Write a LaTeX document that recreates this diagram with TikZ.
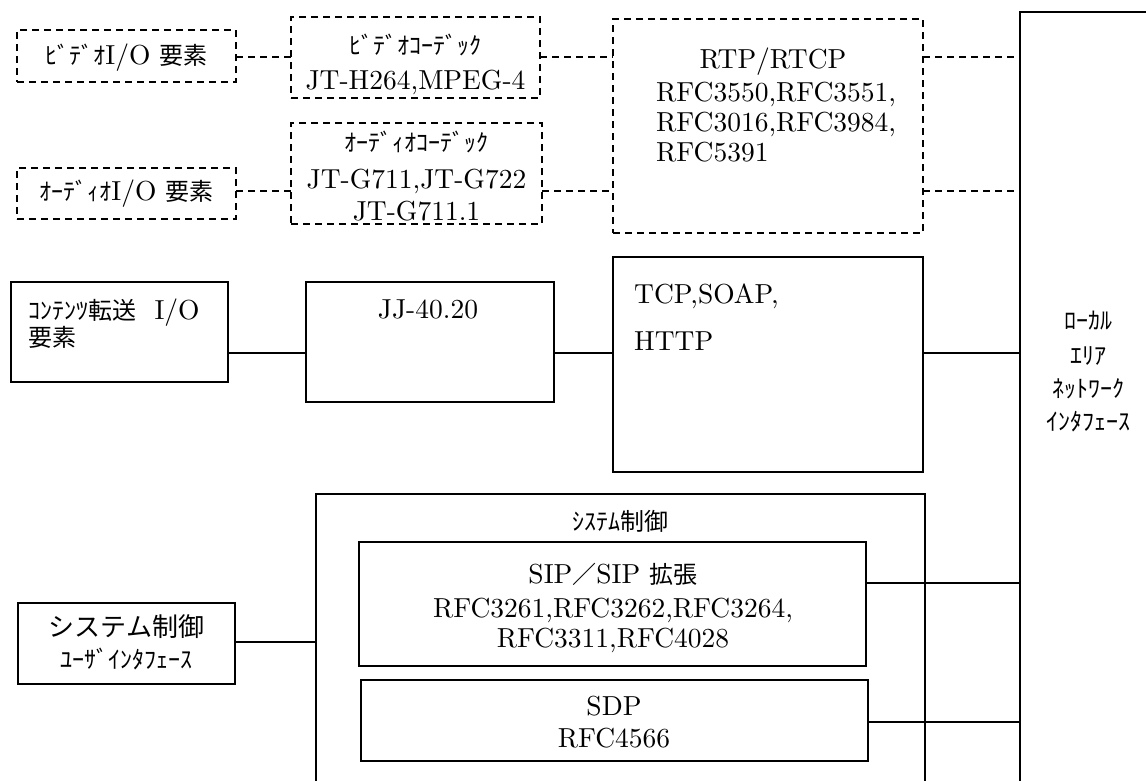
\documentclass[tikz,border=0pt]{standalone}
\usepackage{fontspec}
\setmainfont{lmroman10-regular.otf}
\newfontfamily\jpf{Noto Sans CJK JP}
\newcommand\jp[1]{{\jpf\fontsize{24}{28}\selectfont #1}}
\begin{document}
\begin{tikzpicture}[x=1pt,y=-1pt,
  sbox/.style={draw,line width=1.6pt,inner sep=0pt,outer sep=0pt},
  dbox/.style={sbox,dash pattern=on 7pt off 5pt},
  sl/.style={line width=1.6pt},
  dl/.style={line width=1.6pt,dash pattern=on 7pt off 5pt},
  txt/.style={inner sep=0pt,anchor=base,font=\fontsize{27.5}{30}\selectfont},
  ltxt/.style={txt,anchor=base west}]
\useasboundingbox (0,0) rectangle (1146,780);
\clip (0,0) rectangle (1146,780);
% boxes
\node[dbox,minimum width=219pt,minimum height=52pt] (vio) at (126.5,56) {};
\node[dbox,minimum width=249pt,minimum height=81pt] (vcod) at (415.5,57.5) {};
\node[dbox,minimum width=219pt,minimum height=51pt] (aio) at (126.5,193.5) {};
\node[dbox,minimum width=251pt,minimum height=101pt] (acod) at (416.5,173.5) {};
\node[dbox,minimum width=310pt,minimum height=214pt] (rtp) at (768,126) {};
\node[sbox,minimum width=132pt,minimum height=788pt] (lan) at (1086,406) {};
\node[sbox,minimum width=217pt,minimum height=100pt] (content) at (119.5,332) {};
\node[sbox,minimum width=248pt,minimum height=120pt] (jj) at (430,342) {};
\node[sbox,minimum width=310pt,minimum height=215pt] (tcp) at (768,364.5) {};
\node[sbox,minimum width=609pt,minimum height=306pt] (sys) at (620.5,647) {};
\node[sbox,minimum width=507pt,minimum height=124pt] (sip) at (612.5,604) {};
\node[sbox,minimum width=507pt,minimum height=81pt] (sdp) at (614.5,720.5) {};
\node[sbox,minimum width=217pt,minimum height=81pt] (ui) at (126.5,643.5) {};
% texts
\node[txt] (vioT) at (126.5,64) {\jp{ﾋﾞﾃﾞｵ}I/O \jp{要素}};
\node[txt] (aioT) at (126.5,200) {\jp{ｵｰﾃﾞｨｵ}I/O \jp{要素}};
\node[txt] (vcodA) at (415.5,54) {\jp{ﾋﾞﾃﾞｵｺｰﾃﾞｯｸ}};
\node[txt] (vcodB) at (415.5,89) {JT-H264,MPEG-4};
\node[txt] (acodA) at (416.5,151) {\jp{ｵｰﾃﾞｨｵｺｰﾃﾞｯｸ}};
\node[txt] (acodB) at (416.5,188) {JT-G711,JT-G722};
\node[txt] (acodC) at (416.5,220) {JT-G711.1};
\node[txt] (rtpA) at (773,68) {RTP/RTCP};
\node[ltxt] (rtpB) at (656,101) {RFC3550,RFC3551,};
\node[ltxt] (rtpC) at (656,131) {RFC3016,RFC3984,};
\node[ltxt] (rtpD) at (656,161) {RFC5391};
\node[txt] (lanA) at (1088,329) {\jp{ﾛｰｶﾙ}};
\node[txt] (lanB) at (1088,364) {\jp{ｴﾘｱ}};
\node[txt] (lanC) at (1088,397) {\jp{ﾈｯﾄﾜｰｸ}};
\node[txt] (lanD) at (1088,430) {\jp{ｲﾝﾀﾌｪｰｽ}};
\node[ltxt] (contA) at (28,319) {\jp{ｺﾝﾃﾝﾂ転送}\ \ I/O};
\node[ltxt] (contB) at (28,346) {\jp{要素}};
\node[txt] (jjT) at (428,318) {JJ-40.20};
\node[ltxt] (tcpA) at (634,303) {TCP,SOAP,};
\node[ltxt] (tcpB) at (634,350) {HTTP};
\node[txt] (sysT) at (620,530) {\jp{ｼｽﾃﾑ制御}};
\node[txt] (sipA) at (613,583) {SIP\jp{／}SIP \jp{拡張}};
\node[txt] (sipB) at (613,617) {RFC3261,RFC3262,RFC3264,};
\node[txt] (sipC) at (613,647) {RFC3311,RFC4028};
\node[txt] (sdpA) at (614,715) {SDP};
\node[txt] (sdpB) at (614,747) {RFC4566};
\node[txt] (uiA) at (126.5,636) {{\jpf\fontsize{26}{30}\selectfont システム制御}};
\node[txt] (uiB) at (126.5,668) {\jp{ﾕｰｻﾞｲﾝﾀﾌｪｰｽ}};
% connector levels
\coordinate (ya) at (0,57);
\coordinate (yb) at (0,191);
\coordinate (yc) at (0,353);
\coordinate (yd) at (0,642);
\coordinate (ye) at (0,583);
\coordinate (yf) at (0,722);
% dashed connectors
\draw[dl] (vio.east |- ya) -- (vcod.west |- ya);
\draw[dl] (aio.east |- yb) -- (acod.west |- yb);
\draw[dl] (vcod.east |- ya) -- (rtp.west |- ya);
\draw[dl] (acod.east |- yb) -- (rtp.west |- yb);
\draw[dl] (rtp.east |- ya) -- (lan.west |- ya);
\draw[dl] (rtp.east |- yb) -- (lan.west |- yb);
% solid connectors
\draw[sl] (content.east |- yc) -- (jj.west |- yc);
\draw[sl] (jj.east |- yc) -- (tcp.west |- yc);
\draw[sl] (tcp.east |- yc) -- (lan.west |- yc);
\draw[sl] (ui.east |- yd) -- (sys.west |- yd);
\draw[sl] (sip.east |- ye) -- (lan.west |- ye);
\draw[sl] (sdp.east |- yf) -- (lan.west |- yf);
\end{tikzpicture}
\end{document}
